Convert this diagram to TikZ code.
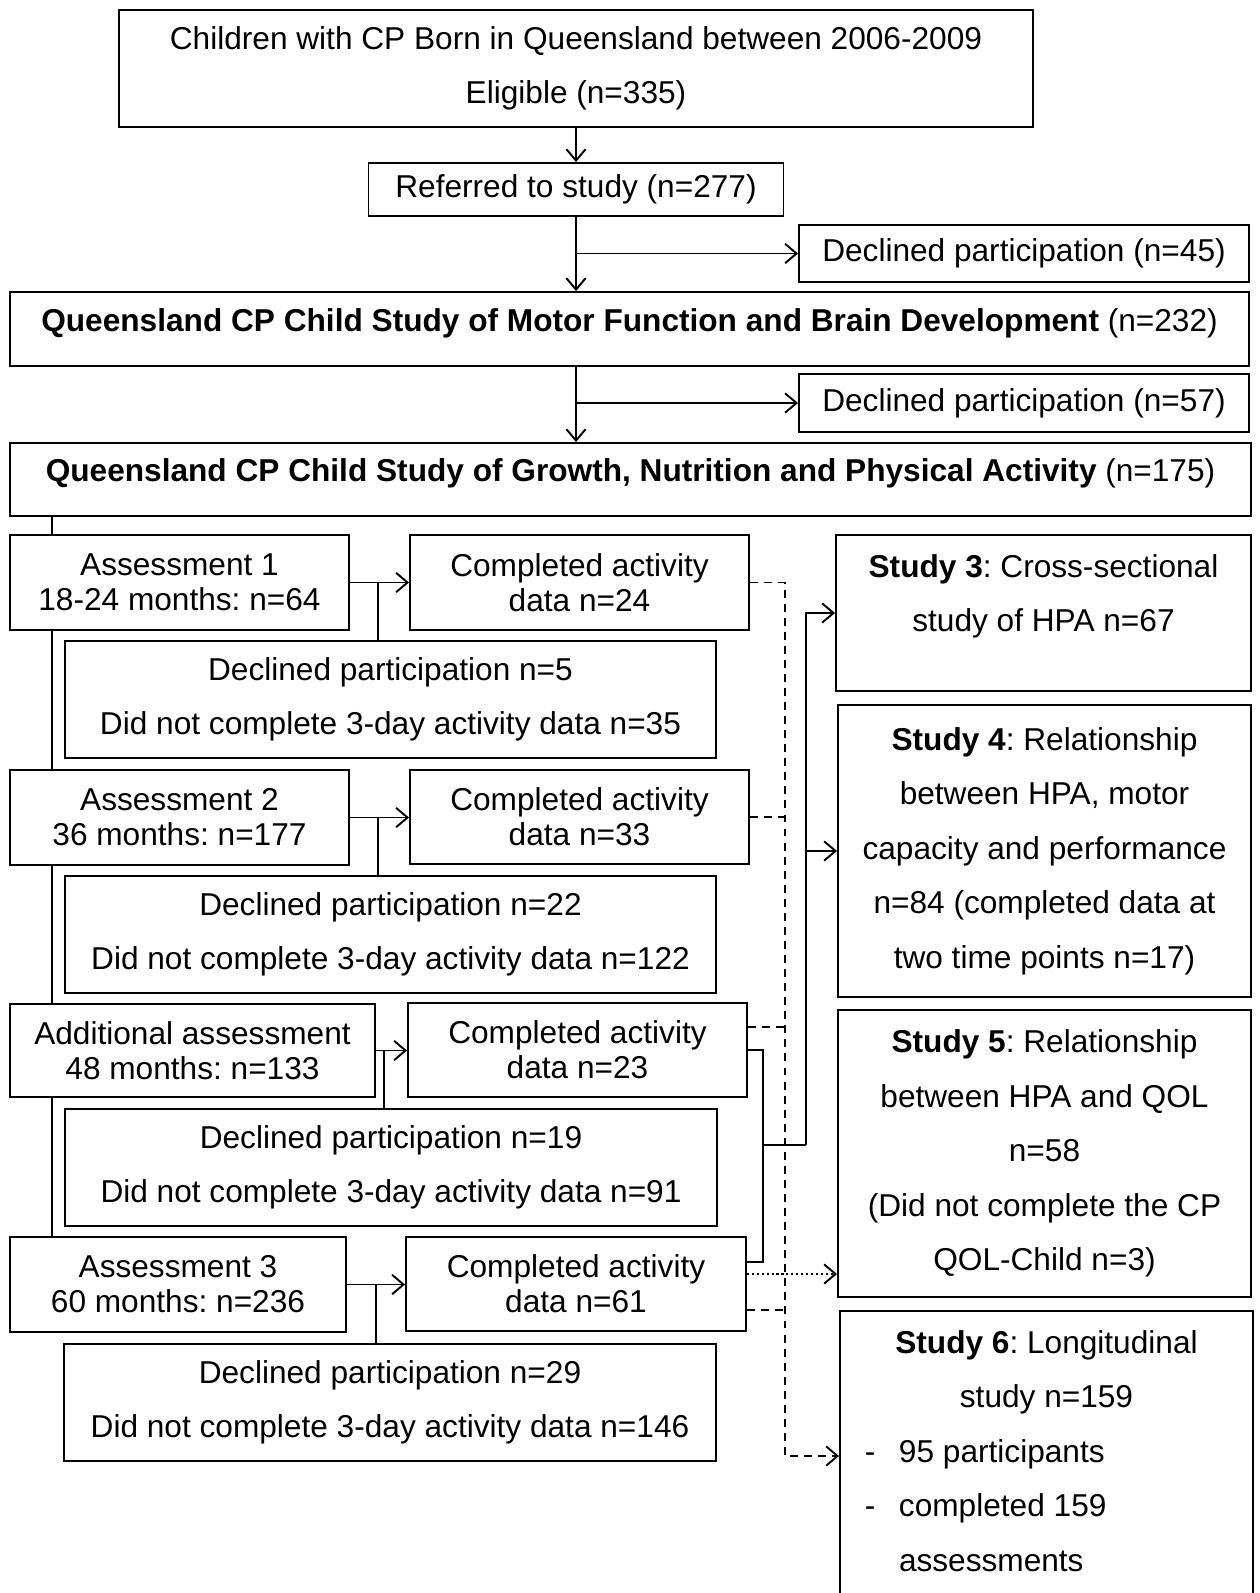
\documentclass[tikz,border=0pt]{standalone}
\usepackage{fontspec}
\setmainfont{Liberation Sans}
\usepackage{tikz}
\usetikzlibrary{calc}
\usetikzlibrary{arrows.meta}

\newcommand{\tailgap}[1]{\rule[-#1]{0pt}{#1}}
\frenchspacing

\begin{document}
\begin{tikzpicture}[x=0.02cm, y=-0.02cm,
  box/.style={draw, line width=1.1pt, inner sep=0pt, align=center, font=\fontsize{18}{31}\selectfont},
  tightbox/.style={box, font=\fontsize{18}{20}\selectfont},
  boxsize/.style 2 args={minimum width=#1*0.02cm, minimum height=#2*0.02cm},
  link/.style={line width=1.1pt},
  arr/.style={link, -{Straight Barb[length=6.5pt,width=11pt]}},
  dashline/.style={link, line width=1.3pt, dash pattern=on 4.5pt off 3.5pt},
  dotline/.style={link, line width=1.3pt, dash pattern=on 1.2pt off 1.6pt}]
       \useasboundingbox (0,0) rectangle (1259,1593);
       \clip (0,0) rectangle (1259,1593);

       % recruitment
       \node[box, boxsize={914}{117}] (elig) at (576,68.5) {Children with CP Born in Queensland between 2006-2009\\Eligible (n=335)};
       \node[box, boxsize={415}{53}] (refer) at (576,189.5) {Referred to study (n=277)};
       \node[box, boxsize={450}{57}] (decl1) at (1024,253.5) {Declined participation (n=45)};
       \node[box, boxsize={1239}{74}] (motor) at (629.5,329) {\textbf{Queensland CP Child Study of Motor Function and Brain Development} (n=232)\tailgap{10.6pt}};
       \node[box, boxsize={450}{58}] (decl2) at (1024,403) {Declined participation (n=57)};
       \node[box, boxsize={1241}{73}] (growth) at (630.5,479.5) {\textbf{Queensland CP Child Study of Growth, Nutrition and Physical Activity} (n=175)\tailgap{10.6pt}};

       \draw[arr] (elig.south) -- (refer.north);
       \draw[arr] (refer.south) -- (refer.south |- motor.north);
       \draw[arr] (refer.south |- decl1.west) -- (decl1.west);
       \draw[arr] (refer.south |- motor.south) -- (refer.south |- growth.north);
       \draw[arr] (refer.south |- decl2.west) -- (decl2.west);

       % assessments
       \node[tightbox, boxsize={339}{95}] (ass1) at (179.5,582.5) {Assessment 1\\18-24 months: n=64};
       \node[tightbox, boxsize={339}{95}] (done1) at (579.5,582.5) {Completed activity\\data n=24};
       \node[box, boxsize={651}{117}] (drop1) at (390.5,699.5) {Declined participation n=5\\Did not complete 3-day activity data n=35};

       \node[tightbox, boxsize={339}{95}] (ass2) at (179.5,817.5) {Assessment 2\\36 months: n=177};
       \node[tightbox, boxsize={339}{94}] (done2) at (579.5,817) {Completed activity\\data n=33};
       \node[box, boxsize={651}{117}] (drop2) at (390.5,934.5) {Declined participation n=22\\Did not complete 3-day activity data n=122};

       \node[tightbox, boxsize={365}{93}] (extra) at (192.5,1050.5) {Additional assessment\\48 months: n=133};
       \node[tightbox, boxsize={339}{94}] (done3) at (577.5,1050) {Completed activity\\data n=23};
       \node[box, boxsize={652}{117}] (drop3) at (391,1167.5) {Declined participation n=19\\Did not complete 3-day activity data n=91};

       \node[tightbox, boxsize={336}{95}] (ass3) at (178,1284.5) {Assessment 3\\60 months: n=236};
       \node[tightbox, boxsize={340}{94}] (done4) at (576,1284) {Completed activity\\data n=61};
       \node[box, boxsize={652}{117}] (drop4) at (390,1402.5) {Declined participation n=29\\Did not complete 3-day activity data n=146};

       \coordinate (spine) at (52,516);
       \draw[link] (spine) -- (spine |- ass1.north);
       \draw[link] (spine |- ass1.south) -- (spine |- ass2.north);
       \draw[link] (spine |- ass2.south) -- (spine |- extra.north);
       \draw[link] (spine |- extra.south) -- (spine |- ass3.north);

       \coordinate (fork1) at ($(ass1.east)+(28,0)$);
       \coordinate (fork2) at ($(ass2.east)+(28,0)$);
       \coordinate (fork3) at ($(extra.east)+(8,0)$);
       \coordinate (fork4) at ($(ass3.east)+(29,0)$);

       \draw[arr] (ass1.east) -- (ass1.east -| done1.west);
       \draw[link] (fork1) -- (fork1 |- drop1.north);
       \draw[arr] (ass2.east) -- (ass2.east -| done2.west);
       \draw[link] (fork2) -- (fork2 |- drop2.north);
       \draw[arr] (extra.east) -- (extra.east -| done3.west);
       \draw[link] (fork3) -- (fork3 |- drop3.north);
       \draw[arr] (ass3.east) -- (ass3.east -| done4.west);
       \draw[link] (fork4) -- (fork4 |- drop4.north);

       % studies
       \node[box, boxsize={415}{156}] (study3) at (1043.5,613) {\textbf{Study 3}: Cross-sectional\\study of HPA n=67\tailgap{23pt}};
       \node[box, boxsize={413}{292}] (study4) at (1044.5,851) {\textbf{Study 4}: Relationship\\between HPA, motor\\capacity and performance\\n=84 (completed data at\\two time points n=17)};
       \node[box, boxsize={413}{287}] (study5) at (1044.5,1153.5) {\textbf{Study 5}: Relationship\\between HPA and QOL\\n=58\\(Did not complete the CP\\QOL-Child n=3)};
       \node[box, boxsize={413}{329}] (study6) at (1046.5,1475.5) {\textbf{Study 6}: Longitudinal\\study n=159\\\makebox[206.7pt][l]{\makebox[19.4pt][l]{-}95 participants}\\\makebox[206.7pt][l]{\makebox[19.4pt][l]{-}completed 159}\\\makebox[206.7pt][l]{\hspace{19.4pt}assessments}\tailgap{28pt}};

       % links to studies
       \coordinate (out3) at ($(done3.east)+(0,-23)$);
       \coordinate (out4a) at ($(done4.east)+(0,-22)$);
       \coordinate (out4b) at ($(done4.east)+(0,-10)$);
       \coordinate (out4c) at ($(done4.east)+(0,26)$);

       \coordinate (dashtop) at (785,582.5);
       \coordinate (dashbot) at (785,1456);
       \draw[dashline, arr] (done1.east) -- (dashtop) -- (dashbot) -- (dashbot -| study6.west);
       \draw[dashline] (done2.east) -- (done2.east -| dashtop);
       \draw[dashline] (out3) -- (out3 -| dashtop);
       \draw[dashline] (out4c) -- (out4c -| dashtop);

       \coordinate (join) at (763,1145);
       \coordinate (feed) at (806,1145);
       \draw[link] (done3.east) -- (done3.east -| join) -- (out4a -| join) -- (out4a);
       \draw[link] (join) -- (feed);
       \draw[arr] (feed) -- (feed |- study3.west) -- (study3.west);
       \draw[arr] (feed |- study4.west) -- (study4.west);

       \draw[dotline, arr] (out4b) -- (out4b -| study5.west);
\end{tikzpicture}
\end{document}
